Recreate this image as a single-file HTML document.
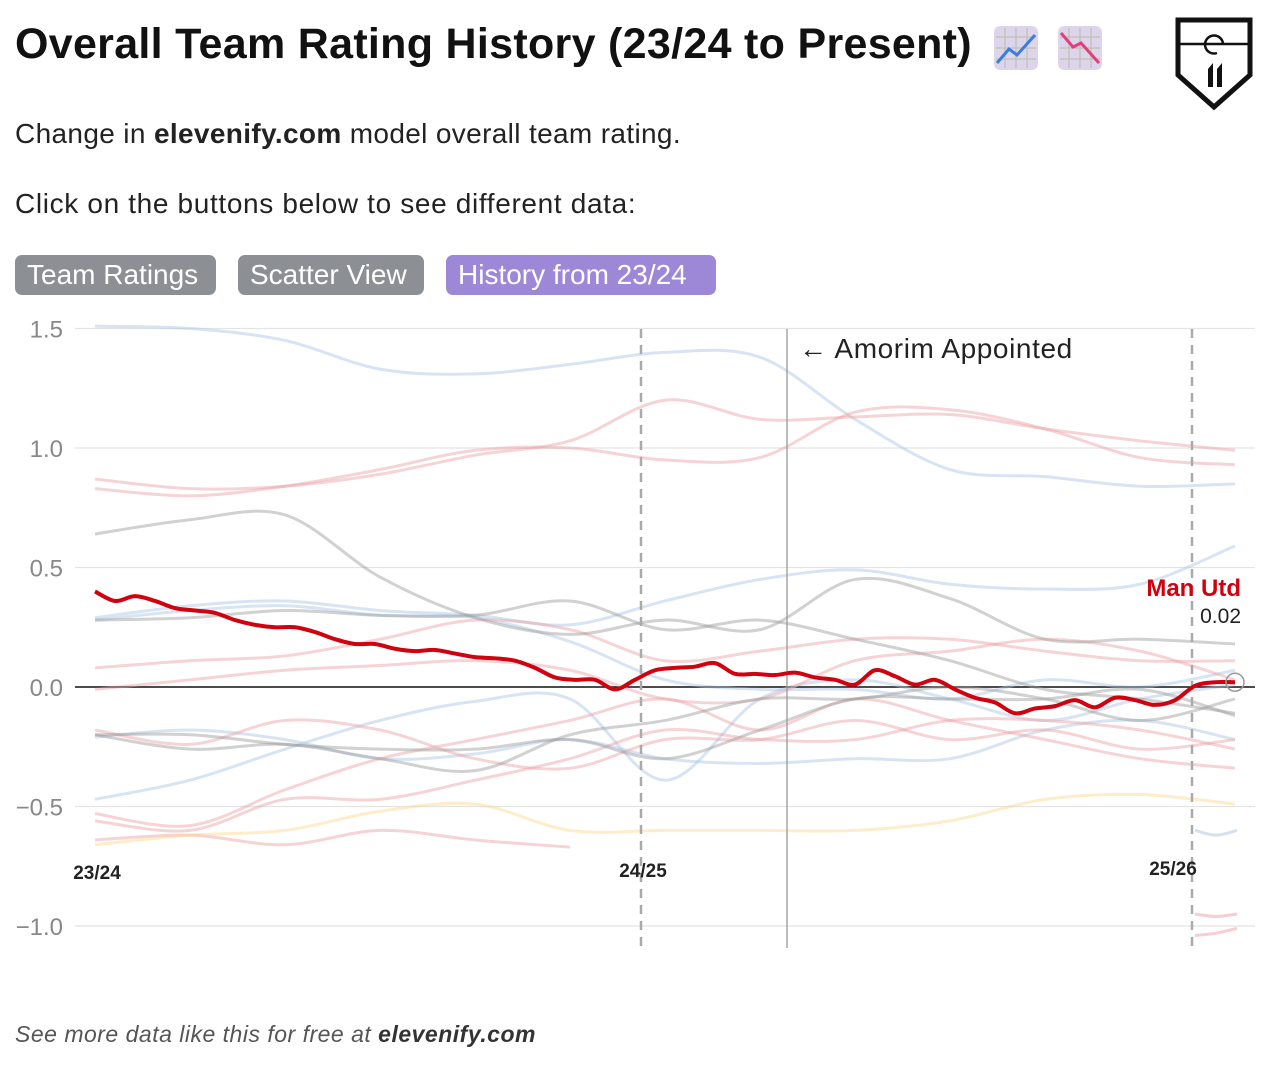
<!DOCTYPE html>
<html><head><meta charset="utf-8">
<style>
body{margin:0;width:1270px;height:1085px;background:#fff;font-family:"Liberation Sans",Arial,sans-serif;position:relative;overflow:hidden}
.t{position:absolute;white-space:nowrap}
.btn{position:absolute;top:255px;height:40px;border-radius:7px;color:#fff;font-size:28px;line-height:40px;padding:0 12px;box-sizing:border-box;overflow:hidden}
</style></head><body>
<div class="t" style="left:15px;top:20px;font-size:43px;font-weight:bold;color:#111;letter-spacing:0.3px">Overall Team Rating History (23/24 to Present)</div>
<svg style="position:absolute;left:993px;top:25px" width="46" height="46"><rect x="1" y="1" width="44" height="44" rx="6" fill="#ddd6ea"/><g stroke="#bba" stroke-width="1"><line x1="12" y1="3" x2="12" y2="43"/><line x1="23" y1="3" x2="23" y2="43"/><line x1="34" y1="3" x2="34" y2="43"/><line x1="3" y1="12" x2="43" y2="12"/><line x1="3" y1="23" x2="43" y2="23"/><line x1="3" y1="34" x2="43" y2="34"/></g><polyline points="4,38 16,24 24,30 42,10" fill="none" stroke="#3a7de0" stroke-width="3"/></svg>
<svg style="position:absolute;left:1057px;top:25px" width="46" height="46"><rect x="1" y="1" width="44" height="44" rx="6" fill="#ddd6ea"/><g stroke="#bba" stroke-width="1"><line x1="12" y1="3" x2="12" y2="43"/><line x1="23" y1="3" x2="23" y2="43"/><line x1="34" y1="3" x2="34" y2="43"/><line x1="3" y1="12" x2="43" y2="12"/><line x1="3" y1="23" x2="43" y2="23"/><line x1="3" y1="34" x2="43" y2="34"/></g><polyline points="4,8 16,22 24,18 42,38" fill="none" stroke="#e0407a" stroke-width="3"/></svg>
<svg style="position:absolute;left:1175px;top:17px" width="78" height="94"><path d="M3,3 H75 V58 L39,90 L3,58 Z" fill="#fff" stroke="#111" stroke-width="5"/><line x1="5" y1="27" x2="73" y2="27" stroke="#111" stroke-width="2.5"/><path d="M48,27 A9,9 0 1 0 42,36" fill="none" stroke="#111" stroke-width="2.5"/><path d="M33,52 L38,46 V70 H33 Z M42,52 L47,46 V70 H42 Z" fill="#111"/></svg>
<div class="t" style="left:15px;top:118px;font-size:28px;letter-spacing:0.35px;color:#222">Change in <b>elevenify.com</b> model overall team rating.</div>
<div class="t" style="left:15px;top:188px;font-size:28px;letter-spacing:0.65px;color:#222">Click on the buttons below to see different data:</div>
<div class="btn" style="left:15px;width:201px;background:#8c9094">Team Ratings</div>
<div class="btn" style="left:238px;width:186px;background:#8c9094">Scatter View</div>
<div class="btn" style="left:446px;width:270px;background:#9d88d8">History from 23/24</div>
<svg id="chart" style="position:absolute;left:0;top:0" width="1270" height="1000"></svg>
<div class="t" style="left:15px;top:1021px;font-size:23px;letter-spacing:0.5px;font-style:italic;color:#555">See more data like this for free at <b style="color:#333">elevenify.com</b></div>
<script>
const yTicks=[1.5,1.0,0.5,0.0,-0.5,-1.0];
const yTickLabels=["1.5","1.0","0.5","0.0","\u22120.5","\u22121.0"];
const seasons=["23/24","24/25","25/26"];
const seasonIdx=[0,27.3,54.85];
const amorimIdx=34.6;
const manUtd=[0.40,0.36,0.38,0.36,0.33,0.32,0.31,0.28,0.26,0.25,0.25,0.23,0.20,0.18,0.18,0.16,0.15,0.155,0.14,0.125,0.12,0.11,0.08,0.04,0.03,0.03,-0.01,0.03,0.07,0.08,0.085,0.10,0.055,0.055,0.05,0.06,0.04,0.03,0.01,0.07,0.045,0.01,0.03,-0.01,-0.045,-0.065,-0.11,-0.09,-0.08,-0.055,-0.085,-0.045,-0.055,-0.075,-0.055,0.005,0.02,0.02];
const bgBlue=[
[1.51,1.50,1.45,1.33,1.31,1.35,1.40,1.38,1.12,0.91,0.88,0.84,0.85],
[0.29,0.34,0.36,0.32,0.30,0.26,0.36,0.45,0.49,0.43,0.41,0.43,0.59],
[0.28,0.32,0.34,0.30,0.29,0.19,0.03,-0.01,-0.01,-0.05,0.03,0.0,0.07],
[-0.21,-0.18,-0.22,-0.30,-0.28,-0.22,-0.30,-0.32,-0.30,-0.30,-0.18,-0.14,-0.22],
[-0.47,-0.39,-0.26,-0.14,-0.06,-0.05,-0.39,-0.05,0.03,-0.05,-0.14,-0.05,0.01]];
const bgPink=[
[0.87,0.83,0.84,0.89,0.97,1.03,1.20,1.12,1.13,1.14,1.08,1.03,0.99],
[0.83,0.80,0.84,0.91,0.99,1.00,0.95,0.96,1.15,1.16,1.08,0.96,0.93],
[0.08,0.11,0.13,0.20,0.28,0.24,0.11,0.15,0.20,0.20,0.15,0.11,0.11],
[-0.01,0.03,0.07,0.09,0.11,0.07,-0.05,-0.05,0.11,0.15,0.20,0.15,0.03],
[-0.53,-0.58,-0.43,-0.30,-0.22,-0.14,-0.05,-0.18,-0.05,-0.14,-0.22,-0.30,-0.34],
[-0.56,-0.60,-0.47,-0.47,-0.39,-0.30,-0.18,-0.22,-0.22,-0.14,-0.14,-0.18,-0.26],
[-0.18,-0.24,-0.14,-0.18,-0.30,-0.34,-0.22,-0.22,-0.14,-0.22,-0.18,-0.26,-0.22],
[-0.64,-0.62,-0.66,-0.60,-0.64,-0.67,null,null,null,null,null,null,null]];
const bgGrey=[
[0.64,0.70,0.72,0.46,0.29,0.22,0.28,0.24,0.45,0.37,0.20,0.20,0.18],
[0.28,0.29,0.32,0.30,0.30,0.36,0.24,0.28,0.20,0.11,-0.01,-0.05,-0.11],
[-0.20,-0.20,-0.24,-0.26,-0.26,-0.22,-0.30,-0.18,-0.05,-0.05,-0.05,-0.01,-0.12],
[-0.20,-0.26,-0.24,-0.30,-0.35,-0.20,-0.14,-0.05,-0.05,0.0,-0.05,-0.14,-0.05]];
const bgYellow=[[-0.66,-0.62,-0.60,-0.52,-0.49,-0.60,-0.60,-0.60,-0.60,-0.56,-0.47,-0.45,-0.49]];
const lateBlue=[-0.60,-0.62,-0.60];
const latePink=[-0.95,-0.96,-0.95];
const latePink2=[-1.04,-1.03,-1.01];

const svg=document.getElementById('chart');const NS='http://www.w3.org/2000/svg';
const X0=95,X1=1235,NM=manUtd.length-1;
const xs=i=>X0+(X1-X0)*i/NM;
const ys=v=>687-239*v;
function el(t,a){const e=document.createElementNS(NS,t);for(const k in a)e.setAttribute(k,a[k]);svg.appendChild(e);return e;}
function smooth(pts){let d='M'+pts[0][0]+','+pts[0][1];for(let i=0;i<pts.length-1;i++){const p0=pts[i-1]||pts[i],p1=pts[i],p2=pts[i+1],p3=pts[i+2]||p2;d+=` C${p1[0]+(p2[0]-p0[0])/6},${p1[1]+(p2[1]-p0[1])/6} ${p2[0]-(p3[0]-p1[0])/6},${p2[1]-(p3[1]-p1[1])/6} ${p2[0]},${p2[1]}`;}return d;}
yTicks.forEach((v,i)=>{
 const g=el('line',{x1:75,x2:1255,y1:ys(v),y2:ys(v),stroke:v===0?'#111':'#e4e4e4','stroke-width':v===0?1.6:1.2});
 
 
 const t=el('text',{x:63,y:ys(v)+9,'text-anchor':'end','font-size':24,fill:'#888','font-family':'Liberation Sans'});
 t.textContent=yTickLabels[i];
 
 
});
function series(arr,color,sw,op,n){
 const step=n?(NM/(n-1)):1;
 let pts=[];arr.forEach((v,i)=>{if(v!==null)pts.push([xs(i*step),ys(v)]);});
 const p=el('path',{d:smooth(pts),fill:'none',stroke:color,'stroke-width':sw,'stroke-opacity':op,'stroke-linejoin':'round'});
 
 
}
bgBlue.forEach(a=>series(a,'#a9c4e4',3,0.45,13));
bgPink.forEach(a=>series(a,'#eba0a4',3,0.45,13));
bgGrey.forEach(a=>series(a,'#9a9a9a',3,0.45,13));
bgYellow.forEach(a=>series(a,'#fad889',3,0.45,13));
function late(arr,color){const pts=arr.map((v,i)=>[1195+i*21,ys(v)]);const p=el('path',{d:smooth(pts),fill:'none',stroke:color,'stroke-width':3,'stroke-opacity':0.5});
 
 }
late(lateBlue,'#a9c4e4');late(latePink,'#eba0a4');late(latePink2,'#eba0a4');
const labelDx=[2,2,-19];const labelY=[879,877,875];
seasons.forEach((s,i)=>{
 const x=xs(seasonIdx[i]);
 if(i>0){const l=el('line',{x1:x,x2:x,y1:329,y2:948,stroke:'#aaa','stroke-width':2.5,'stroke-dasharray':'9,7'});
 
 }
 const t=el('text',{x:x+labelDx[i],y:labelY[i],'text-anchor':'middle','font-size':19,'font-weight':'bold',fill:'#222','font-family':'Liberation Sans'});
 t.textContent=s;
 
 
});
const ax=xs(amorimIdx);
const al=el('line',{x1:ax,x2:ax,y1:329,y2:948,stroke:'#999','stroke-width':1.3});


const at=el('text',{x:ax+12,y:358,'font-size':28,'letter-spacing':0.6,fill:'#222','font-family':'Liberation Sans'});
at.textContent='\u2190 Amorim Appointed';


const mp=el('path',{d:smooth(manUtd.map((v,i)=>[xs(i),ys(v)])),fill:'none',stroke:'#d0020f','stroke-width':4,'stroke-linejoin':'round'});


const last=manUtd[NM];
const c=el('circle',{cx:xs(NM),cy:ys(last),r:9,fill:'none',stroke:'#999','stroke-width':1.5});


const ml=el('text',{x:1241,y:596,'text-anchor':'end','font-size':24,'font-weight':'bold',fill:'#d0020f','font-family':'Liberation Sans'});
ml.textContent='Man Utd';


const mv=el('text',{x:1241,y:623,'text-anchor':'end','font-size':21,fill:'#222','font-family':'Liberation Sans'});
mv.textContent=last.toFixed(2);


</script>
</body></html>
